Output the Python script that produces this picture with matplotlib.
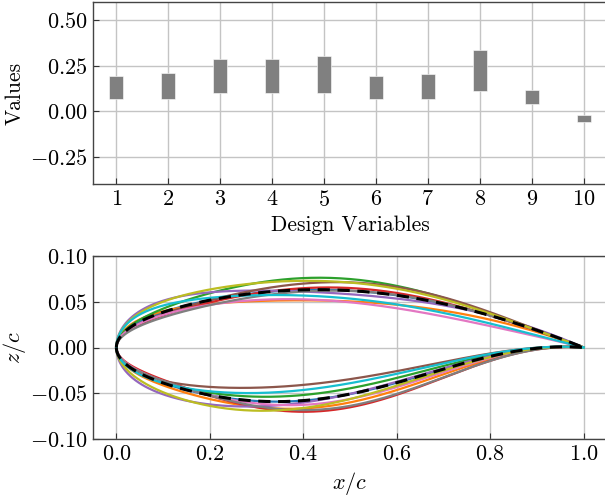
import numpy as np
import matplotlib
matplotlib.use("Agg")
import matplotlib.pyplot as plt
from math import comb

plt.rcParams.update({
    "font.family": "serif",
    "font.serif": ["cmr10"],
    "mathtext.fontset": "cm",
    "axes.formatter.use_mathtext": True,
    "axes.unicode_minus": True,
})

# Design-variable bounds (min / max of each CST coefficient)
design_vars = list(range(1, 11))
lower_bound = [0.066, 0.069, 0.099, 0.099, 0.102, 0.066, 0.069, 0.113, 0.040, -0.058]
upper_bound = [0.193, 0.208, 0.288, 0.288, 0.303, 0.193, 0.204, 0.339, 0.115, -0.020]

# Baseline CST coefficients (upper surface, lower surface)
base_upper = [0.130, 0.138, 0.193, 0.193, 0.202]
base_lower = [0.130, 0.136, 0.226, 0.078, -0.039]

# Sampled airfoils: CST coefficients for upper and lower surfaces
samples_upper = [
    [0.130, 0.138, 0.193, 0.193, 0.202],
    [0.152, 0.110, 0.137, 0.170, 0.186],
    [0.138, 0.155, 0.259, 0.224, 0.178],
    [0.116, 0.121, 0.230, 0.193, 0.190],
    [0.195, 0.152, 0.137, 0.197, 0.222],
    [0.121, 0.127, 0.237, 0.247, 0.182],
    [0.122, 0.126, 0.166, 0.122, 0.127],
    [0.107, 0.119, 0.205, 0.197, 0.196],
    [0.182, 0.155, 0.214, 0.237, 0.178],
    [0.181, 0.115, 0.172, 0.154, 0.131],
]
samples_lower = [
    [0.130, 0.136, 0.226, 0.078, -0.039],
    [0.143, 0.128, 0.287, 0.094, -0.037],
    [0.129, 0.135, 0.183, 0.073, -0.039],
    [0.113, 0.114, 0.337, 0.101, -0.037],
    [0.190, 0.155, 0.199, 0.082, -0.038],
    [0.139, 0.103, 0.127, 0.073, -0.039],
    [0.118, 0.132, 0.267, 0.084, -0.038],
    [0.124, 0.106, 0.325, 0.106, -0.036],
    [0.164, 0.181, 0.228, 0.083, -0.038],
    [0.140, 0.128, 0.145, 0.071, -0.039],
]


def cst_basis(x, n=4):
    """Class function sqrt(x)(1-x) times Bernstein polynomials of order n."""
    c = np.sqrt(x) * (1.0 - x)
    return np.array([c * comb(n, i) * x**i * (1.0 - x)**(n - i)
                     for i in range(n + 1)]).T


x = 0.5 * (1.0 - np.cos(np.linspace(0.0, np.pi, 301)))
B = cst_basis(x)

fig = plt.figure(figsize=(6.05, 4.97), dpi=100)
W, H = 605.0, 497.0
ax1 = fig.add_axes([93 / W, 1 - 184 / H, 514 / W, 182 / H])
ax2 = fig.add_axes([93 / W, 1 - 439 / H, 514 / W, 183 / H])

for ax in (ax1, ax2):
    ax.set_axisbelow(True)
    ax.grid(True, color="#c4c4c4", linewidth=1.0)
    ax.tick_params(direction="in", length=4.5, width=0.8, labelsize=16,
                   colors="#333333", labelcolor="black", pad=4)
    for s in ax.spines.values():
        s.set_color("#444444")
        s.set_linewidth(1.0)

# Top: design-variable ranges
heights = np.array(upper_bound) - np.array(lower_bound)
ax1.bar(design_vars, heights, bottom=lower_bound, width=0.27,
        color="#808080", edgecolor="white", linewidth=0.4)
ax1.set_xlim(0.55, 10.45)
ax1.set_ylim(-0.4, 0.6)
ax1.set_xticks(design_vars)
ax1.set_yticks([-0.25, 0.0, 0.25, 0.5])
ax1.yaxis.set_major_formatter(plt.FuncFormatter(lambda v, p: f"${v:.2f}$"))
ax1.set_xlabel("Design Variables", fontsize=15.5, labelpad=4)
ax1.set_ylabel("Values", fontsize=15.5, labelpad=4)

# Bottom: sampled airfoil geometries and the baseline
for k, (au, al) in enumerate(zip(samples_upper, samples_lower)):
    ax2.plot(x, B @ np.array(au), color=f"C{k}", linewidth=1.6)
    ax2.plot(x, -(B @ np.array(al)), color=f"C{k}", linewidth=1.6)
ax2.plot(x, B @ np.array(base_upper), "k--", linewidth=2.2, dashes=(4, 2.5))
ax2.plot(x, -(B @ np.array(base_lower)), "k--", linewidth=2.2, dashes=(4, 2.5))
ax2.set_xlim(-0.05, 1.05)
ax2.set_ylim(-0.1, 0.1)
ax2.set_xticks([0.0, 0.2, 0.4, 0.6, 0.8, 1.0])
ax2.set_yticks([-0.1, -0.05, 0.0, 0.05, 0.1])
ax2.xaxis.set_major_formatter(plt.FuncFormatter(lambda v, p: f"${v:.1f}$"))
ax2.yaxis.set_major_formatter(plt.FuncFormatter(lambda v, p: f"${v:.2f}$"))
ax2.set_xlabel("$x/c$", fontsize=16, labelpad=4)
ax2.set_ylabel("$z/c$", fontsize=16, labelpad=1)

fig.savefig("out.png", dpi=100)
